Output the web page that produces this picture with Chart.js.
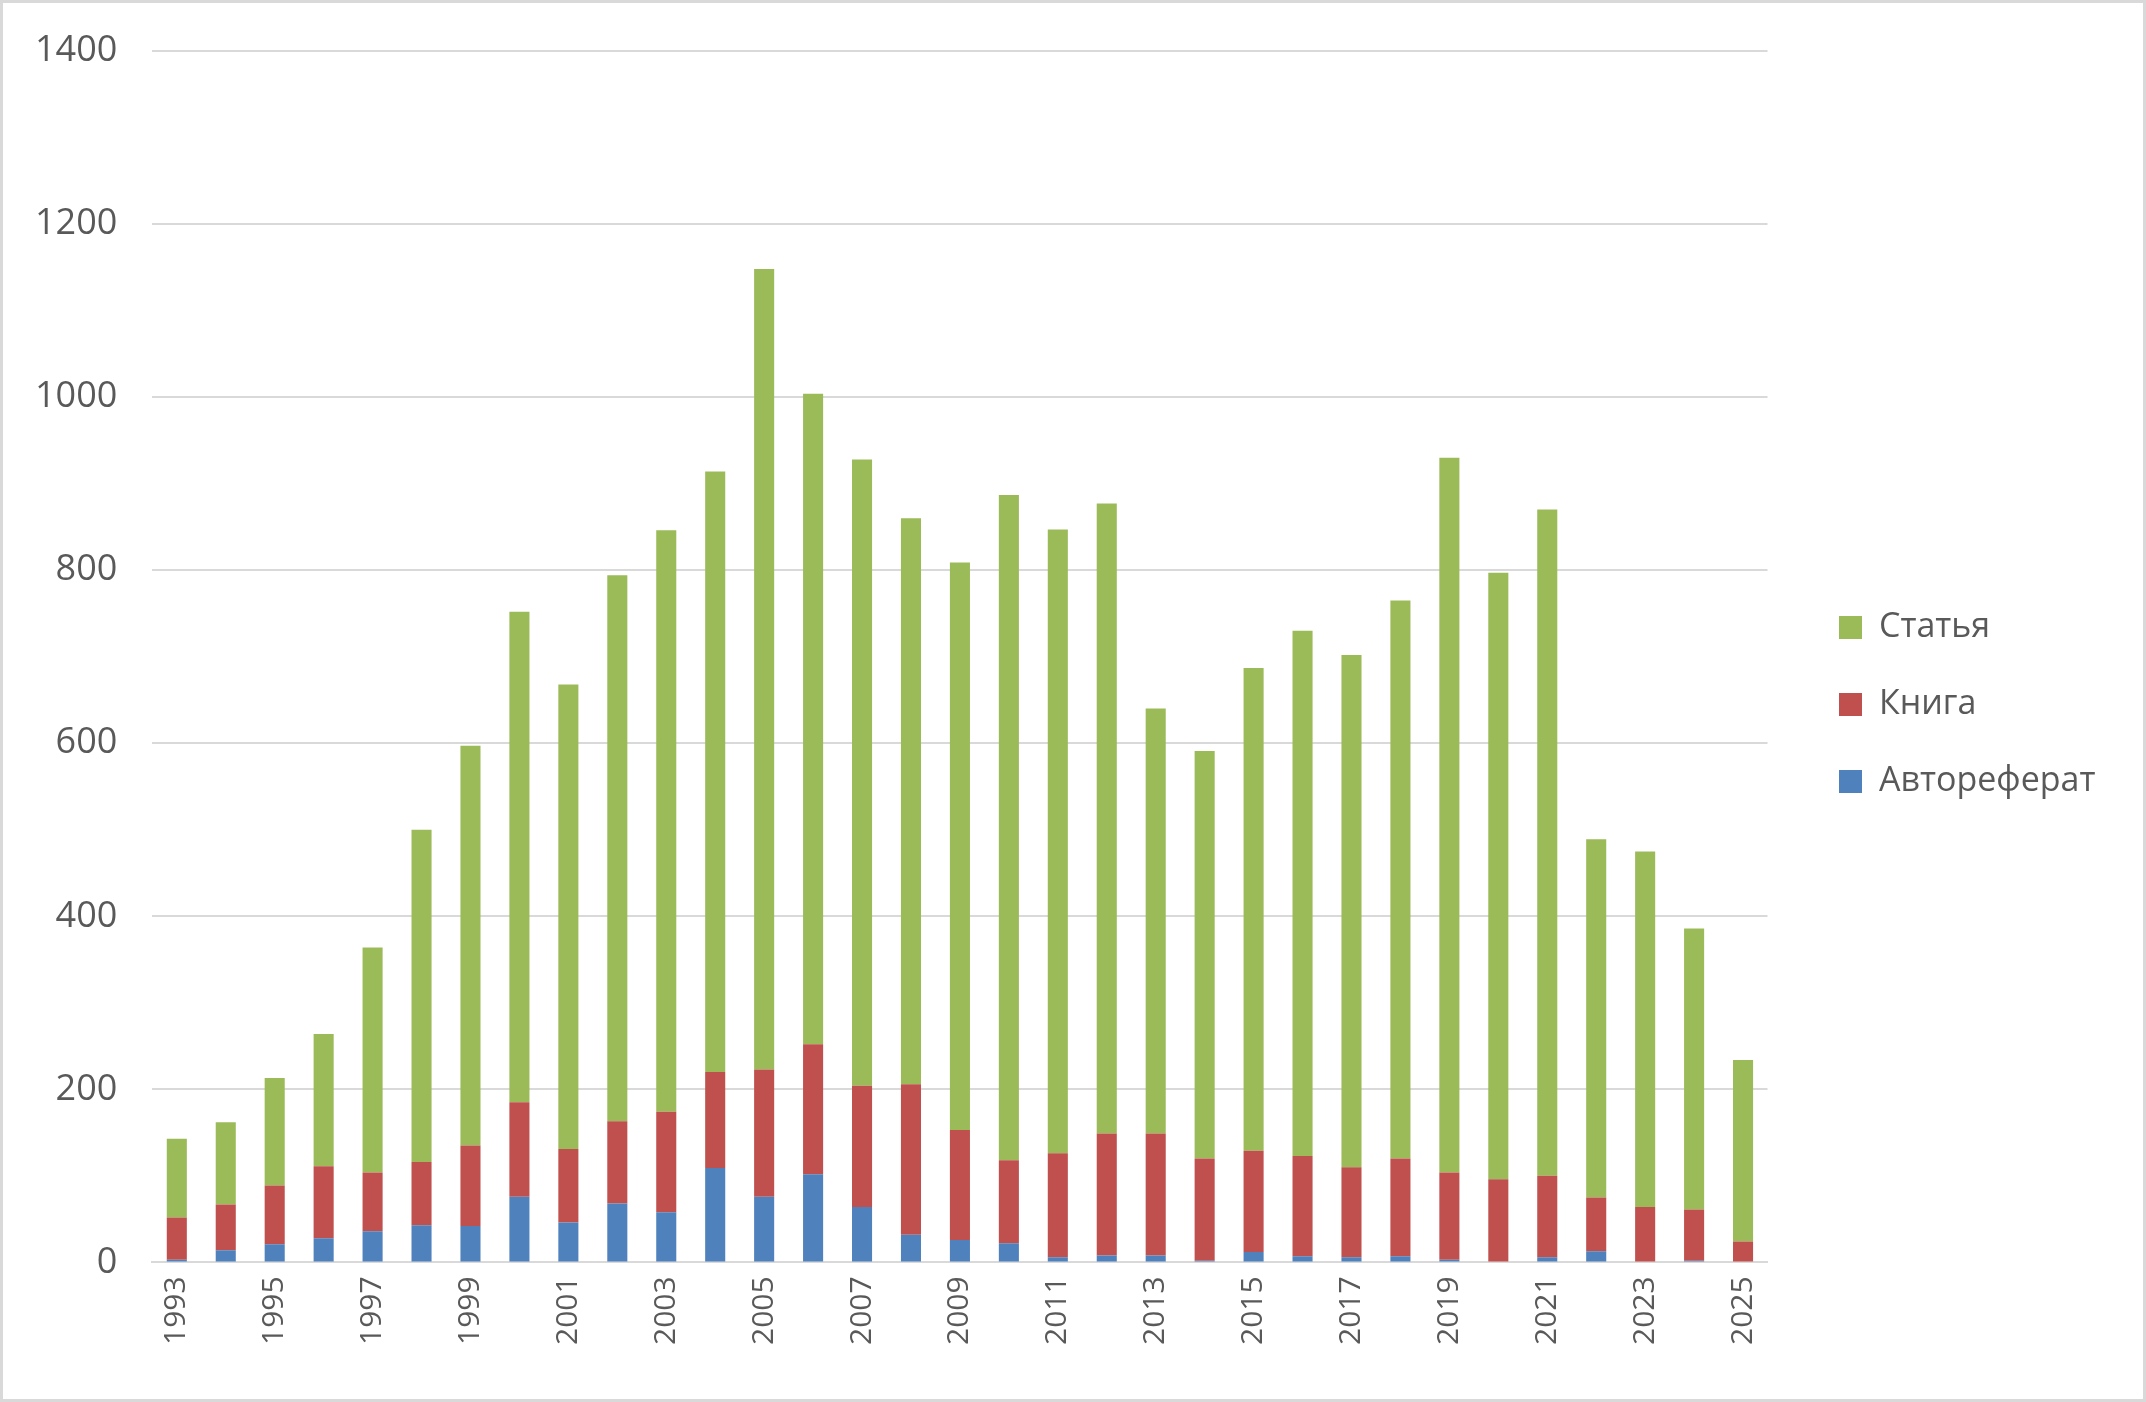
<!DOCTYPE html>
<html lang="ru">
<head>
    <meta charset="UTF-8">
    <title>Публикации по годам</title>
    <script src="https://cdn.jsdelivr.net/npm/chart.js"></script>
    <style>
        html, body { margin: 0; padding: 0; background: #fff; }
        canvas { display: block; }
    </style>
</head>
<body>
    <canvas id="pubChart" width="2146" height="1402"></canvas>

    <script>
        const years = ['1993', '1994', '1995', '1996', '1997', '1998', '1999', '2000', '2001', '2002', '2003',
            '2004', '2005', '2006', '2007', '2008', '2009', '2010', '2011', '2012', '2013', '2014', '2015',
            '2016', '2017', '2018', '2019', '2020', '2021', '2022', '2023', '2024', '2025'];

        const avtoreferat = [3, 14, 21, 28, 36, 43, 42, 76, 46, 68, 58, 109, 76, 102, 64, 32, 26, 22, 6, 8, 8, 2,
            12, 7, 6, 7, 3, 1, 6, 13, 1, 2, 0];
        const kniga = [49, 53, 68, 83, 68, 73, 93, 109, 85, 95, 116, 111, 147, 150, 140, 174, 127, 96, 120, 141,
            141, 118, 117, 116, 104, 113, 101, 95, 94, 62, 63, 59, 24];
        const statya = [91, 95, 124, 153, 260, 384, 462, 567, 537, 631, 672, 694, 925, 752, 724, 654, 656, 769,
            721, 728, 491, 471, 558, 607, 592, 645, 826, 701, 770, 414, 411, 325, 210];

        const yTicks = [0, 200, 400, 600, 800, 1000, 1200, 1400];

        const textColor = '#595959';
        const gridColor = '#d9d9d9';

        // положение легенды и рамка вокруг картинки
        const extras = {
            id: 'extras',
            afterLayout(chart) {
                const l = chart.legend;
                l.left = 1796;
                l.right = chart.width;
                l.top = 7;
                l.bottom = chart.height;
            },
            afterDraw(chart) {
                const ctx = chart.ctx;
                ctx.save();
                ctx.strokeStyle = gridColor;
                ctx.lineWidth = 3;
                ctx.strokeRect(1.5, 1.5, chart.width - 3, chart.height - 3);
                ctx.restore();
            }
        };

        function initChart() {
            const ctx = document.getElementById('pubChart').getContext('2d');
            new Chart(ctx, {
                type: 'bar',
                data: {
                    labels: years,
                    datasets: [
                        { label: 'Автореферат', data: avtoreferat, backgroundColor: '#4F81BD' },
                        { label: 'Книга', data: kniga, backgroundColor: '#C0504D' },
                        { label: 'Статья', data: statya, backgroundColor: '#9BBB59' }
                    ]
                },
                options: {
                    responsive: false,
                    devicePixelRatio: 1,
                    animation: false,
                    datasets: {
                        bar: { categoryPercentage: 1, barPercentage: 0.41 }
                    },
                    layout: {
                        padding: { left: 0, top: 51, right: 69, bottom: 43 }
                    },
                    scales: {
                        x: {
                            stacked: true,
                            grid: { display: false, drawTicks: false },
                            border: { color: gridColor, width: 2 },
                            ticks: {
                                autoSkip: false,
                                minRotation: 90,
                                maxRotation: 90,
                                padding: 14,
                                color: textColor,
                                font: { family: 'Open Sans', size: 30 },
                                callback: (v, i) => (i % 2 === 0 ? years[i] : '')
                            }
                        },
                        y: {
                            stacked: true,
                            min: 0,
                            max: 1400,
                            afterBuildTicks: axis => { axis.ticks = yTicks.map(v => ({ value: v })); },
                            afterFit: axis => { axis.paddingTop = 0; },
                            grid: { color: gridColor, lineWidth: 2, drawTicks: false },
                            border: { display: false },
                            ticks: {
                                padding: 35,
                                color: textColor,
                                font: { family: 'Open Sans', size: 36 },
                                callback: v => String(v)
                            }
                        }
                    },
                    plugins: {
                        tooltip: { enabled: false },
                        legend: {
                            position: 'right',
                            reverse: true,
                            labels: {
                                boxWidth: 23,
                                boxHeight: 23,
                                padding: 43,
                                color: textColor,
                                font: { family: 'Open Sans', size: 34 }
                            }
                        }
                    }
                },
                plugins: [extras]
            });
        }

        document.addEventListener('DOMContentLoaded', initChart);
    </script>
</body>
</html>
